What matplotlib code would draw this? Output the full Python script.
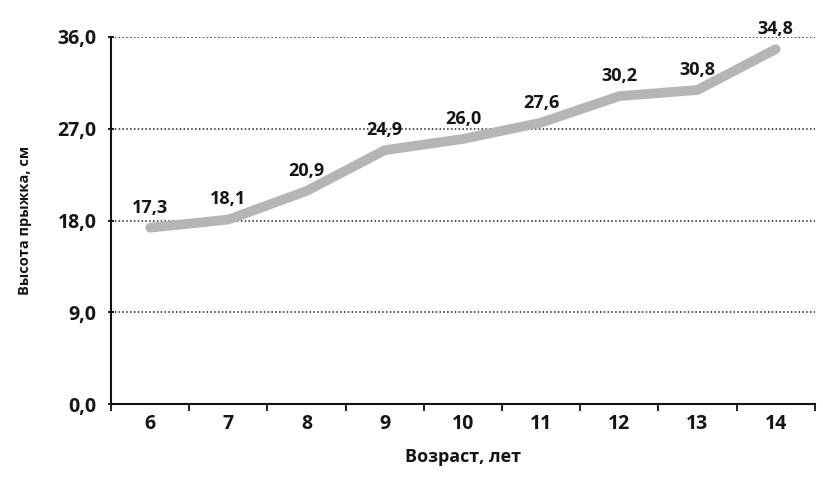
import matplotlib.pyplot as plt
import numpy as np

ages = ["6", "7", "8", "9", "10", "11", "12", "13", "14"]
heights = [17.3, 18.1, 20.9, 24.9, 26.0, 27.6, 30.2, 30.8, 34.8]
y_ticks = [0.0, 9.0, 18.0, 27.0, 36.0]

plt.rcParams['font.family'] = ['Open Sans', 'DejaVu Sans']

fig = plt.figure(figsize=(8.23, 4.8), dpi=100)
ax = fig.add_axes([0.135, 0.158, 0.855, 0.765])

x = np.arange(len(ages))
ax.plot(x, heights, color="#b5b5b5", linewidth=7, solid_capstyle="round",
        solid_joinstyle="round", zorder=3)

for xi, v in zip(x, heights):
    ax.annotate(f"{v:.1f}".replace(".", ","), (xi, v), xytext=(0, 8),
                textcoords="offset points", ha="center", va="bottom",
                fontsize=13, fontweight="bold", color="#151515")

ax.set_xlim(-0.5, len(ages) - 0.5)
ax.set_ylim(0, 36)
ax.set_yticks(y_ticks)
ax.set_yticklabels([f"{t:.1f}".replace(".", ",") for t in y_ticks],
                   fontsize=14, fontweight="bold", color="#151515")
for t in y_ticks[1:]:
    ax.axhline(t, color="#222222", linestyle=(0, (1, 1.5)), linewidth=1.1, zorder=1)

ax.set_xticks(x)
ax.set_xticklabels(ages, fontsize=14, fontweight="bold", color="#151515")
ax.set_xticks(np.arange(-0.5, len(ages)), minor=True)
ax.tick_params(axis="x", which="major", length=0, pad=7)
ax.tick_params(axis="x", which="minor", length=5, width=1.2, direction="out")
ax.tick_params(axis="y", length=5, width=1.2, direction="inout", pad=8)

for s in ["top", "right"]:
    ax.spines[s].set_visible(False)
for s in ["left", "bottom"]:
    ax.spines[s].set_linewidth(1.5)
    ax.spines[s].set_color("#111111")

ax.set_xlabel("Возраст, лет", fontsize=13, fontweight="bold", labelpad=10,
              color="#151515")
ax.set_ylabel("Высота прыжка, см", fontsize=10.5, fontweight="bold", labelpad=18,
              color="#151515")

fig.savefig("out.png", dpi=100)
